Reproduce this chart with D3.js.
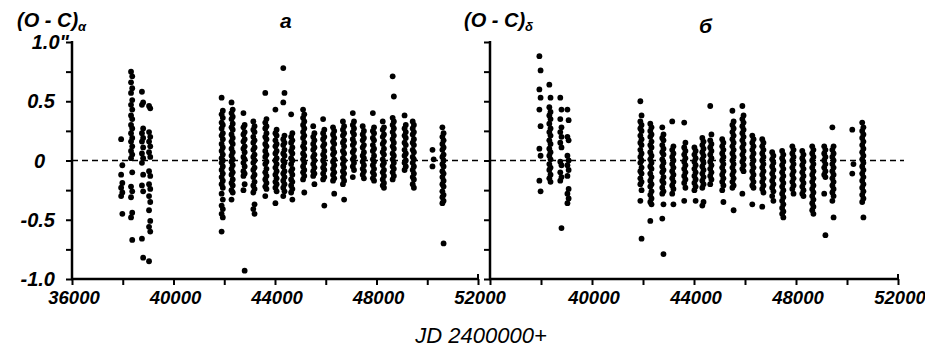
<!DOCTYPE html>
<html>
<head>
<meta charset="utf-8">
<script src="https://cdn.jsdelivr.net/npm/d3@7"></script>
<style>
  body { margin: 0; background: #fff; color: #000; }
  text { font-family: "Liberation Sans", Arial, sans-serif; fill: #000; }
</style>
</head>
<body>
<div id="root"></div>
<script>
// observing seasons (JD - 2400000), shared by both panels
const epochs = [37960, 38350, 38780, 39060, 41920, 42310, 42780, 43170, 43640, 44040, 44350, 44660, 45130,
  45530, 45920, 46310, 46700, 47090, 47480, 47880, 48270, 48660, 49130, 49450, 50230, 50620];

// (O-C) in right ascension, one list per season
const alphaValues = [
  [0.18, -0.04, -0.12, -0.19, -0.23, -0.27, -0.3, -0.45],
  [0.75, 0.71, 0.66, 0.61, 0.57, 0.51, 0.47, 0.43, 0.38, 0.35, 0.3, 0.27, 0.23, 0.19, 0.16, 0.12, 0.08, 0.05, 0.02, -0.1, -0.22, -0.26, -0.31, -0.44, -0.48, -0.67],
  [0.58, 0.49, 0.47, 0.27, 0.23, 0.19, 0.16, 0.11, 0.06, 0.02, -0.02, -0.12, -0.21, -0.26, -0.66, -0.82],
  [0.46, 0.44, 0.24, 0.2, 0.16, 0.12, 0.07, 0.03, -0.09, -0.13, -0.2, -0.24, -0.3, -0.35, -0.42, -0.51, -0.56, -0.6, -0.85],
  [0.53, 0.42, 0.39, 0.36, 0.32, 0.3, 0.27, 0.23, 0.21, 0.18, 0.14, 0.11, 0.08, 0.05, 0.02, 0, -0.02, -0.05, -0.08, -0.11, -0.14, -0.17, -0.2, -0.23, -0.28, -0.33, -0.38, -0.41, -0.45, -0.48, -0.6],
  [0.49, 0.43, 0.4, 0.37, 0.35, 0.31, 0.28, 0.26, 0.22, 0.19, 0.16, 0.14, 0.1, 0.07, 0.04, 0.01, -0.01, -0.04, -0.07, -0.1, -0.12, -0.16, -0.19, -0.21, -0.25, -0.27, -0.33],
  [0.4, 0.3, 0.28, 0.24, 0.22, 0.18, 0.16, 0.12, 0.1, 0.07, 0.03, 0.01, -0.02, -0.05, -0.09, -0.11, -0.13, -0.2, -0.25, -0.93],
  [0.33, 0.29, 0.26, 0.24, 0.2, 0.17, 0.15, 0.11, 0.09, 0.05, 0.03, 0, -0.02, -0.06, -0.08, -0.12, -0.14, -0.18, -0.21, -0.24, -0.27, -0.37, -0.41, -0.45],
  [0.57, 0.35, 0.32, 0.29, 0.27, 0.23, 0.2, 0.18, 0.14, 0.12, 0.08, 0.05, 0.03, -0.01, -0.03, -0.07, -0.1, -0.13, -0.16, -0.19, -0.22, -0.24, -0.3],
  [0.43, 0.26, 0.23, 0.21, 0.17, 0.14, 0.12, 0.08, 0.06, 0.02, 0, -0.03, -0.06, -0.09, -0.12, -0.15, -0.18, -0.2, -0.23, -0.26, -0.36],
  [0.78, 0.57, 0.49, 0.21, 0.18, 0.15, 0.13, 0.09, 0.06, 0.04, 0, -0.02, -0.05, -0.09, -0.11, -0.14, -0.17, -0.2, -0.23, -0.26, -0.3],
  [0.39, 0.23, 0.2, 0.17, 0.15, 0.11, 0.08, 0.06, 0.02, 0, -0.03, -0.07, -0.09, -0.12, -0.16, -0.18, -0.21, -0.24, -0.27, -0.33],
  [0.43, 0.39, 0.36, 0.33, 0.3, 0.27, 0.24, 0.21, 0.19, 0.15, 0.12, 0.1, 0.06, 0.04, 0.01, -0.02, -0.05, -0.08, -0.1, -0.13, -0.16, -0.27],
  [0.29, 0.23, 0.2, 0.17, 0.14, 0.11, 0.09, 0.05, 0.03, 0, -0.03, -0.06, -0.09, -0.11, -0.13, -0.2],
  [0.35, 0.26, 0.23, 0.2, 0.18, 0.14, 0.12, 0.08, 0.05, 0.03, 0, -0.03, -0.06, -0.08, -0.11, -0.14, -0.16, -0.38],
  [0.28, 0.25, 0.22, 0.19, 0.16, 0.14, 0.1, 0.07, 0.05, 0.01, -0.01, -0.04, -0.07, -0.1, -0.12, -0.15, -0.17, -0.28],
  [0.33, 0.29, 0.26, 0.23, 0.21, 0.17, 0.15, 0.12, 0.08, 0.06, 0.02, 0, -0.03, -0.06, -0.09, -0.11, -0.14, -0.17, -0.2, -0.33],
  [0.4, 0.33, 0.3, 0.27, 0.24, 0.22, 0.18, 0.15, 0.13, 0.09, 0.07, 0.03, 0.01, -0.02, -0.05, -0.08, -0.14],
  [0.29, 0.25, 0.22, 0.19, 0.17, 0.13, 0.11, 0.07, 0.04, 0.02, -0.01, -0.04, -0.07, -0.09, -0.12, -0.15],
  [0.4, 0.28, 0.25, 0.23, 0.19, 0.17, 0.13, 0.1, 0.08, 0.04, 0.01, -0.01, -0.04, -0.07, -0.1, -0.12, -0.15, -0.17],
  [0.33, 0.28, 0.26, 0.22, 0.2, 0.16, 0.14, 0.1, 0.07, 0.05, 0.01, -0.02, -0.04, -0.08, -0.1, -0.13, -0.16, -0.19, -0.21, -0.23],
  [0.71, 0.54, 0.36, 0.33, 0.3, 0.27, 0.24, 0.21, 0.18, 0.15, 0.12, 0.1, 0.06, 0.04, 0.01, -0.02, -0.05, -0.07, -0.1, -0.13, -0.16],
  [0.38, 0.3, 0.27, 0.24, 0.21, 0.19, 0.15, 0.13, 0.09, 0.06, 0.04, 0, -0.02, -0.05, -0.08],
  [0.33, 0.3, 0.27, 0.24, 0.22, 0.18, 0.15, 0.13, 0.09, 0.07, 0.03, 0.01, -0.02, -0.05, -0.08, -0.11, -0.14, -0.16, -0.2, -0.23],
  [0.09, 0.01, -0.05],
  [0.28, 0.23, 0.2, 0.17, 0.14, 0.11, 0.09, 0.05, 0.03, 0, -0.03, -0.05, -0.09, -0.11, -0.14, -0.17, -0.2, -0.22, -0.26, -0.29, -0.31, -0.34, -0.36, -0.7]
];

// (O-C) in declination, one list per season
const deltaValues = [
  [0.88, 0.76, 0.6, 0.53, 0.43, 0.29, 0.1, 0.04, -0.17, -0.26],
  [0.64, 0.53, 0.45, 0.41, 0.38, 0.35, 0.31, 0.27, 0.24, 0.21, 0.17, 0.14, 0.1, 0.07, 0.04, 0.01, -0.03, -0.06, -0.08, -0.12, -0.15, -0.18],
  [0.53, 0.43, 0.35, 0.28, 0.24, 0.2, 0.15, 0.11, -0.01, -0.04, -0.1, -0.14, -0.17, -0.57],
  [0.43, 0.34, 0.2, 0.17, 0.04, 0, -0.04, -0.08, -0.13, -0.24, -0.28, -0.32, -0.36],
  [0.5, 0.38, 0.33, 0.3, 0.27, 0.25, 0.21, 0.18, 0.15, 0.13, 0.09, 0.06, 0.03, 0, -0.02, -0.06, -0.09, -0.11, -0.15, -0.18, -0.2, -0.25, -0.34, -0.66],
  [0.31, 0.28, 0.25, 0.22, 0.2, 0.16, 0.13, 0.11, 0.07, 0.04, 0.01, -0.02, -0.05, -0.07, -0.11, -0.14, -0.17, -0.2, -0.22, -0.26, -0.29, -0.32, -0.35, -0.37, -0.51],
  [0.28, 0.22, 0.19, 0.17, 0.13, 0.1, 0.07, 0.05, 0.01, -0.02, -0.05, -0.08, -0.1, -0.14, -0.17, -0.19, -0.23, -0.26, -0.28, -0.37, -0.49, -0.79],
  [0.33, 0.12, 0.09, 0.06, 0.03, 0, -0.03, -0.06, -0.09, -0.12, -0.15, -0.18, -0.21, -0.24, -0.28, -0.37],
  [0.32, 0.15, 0.11, 0.08, 0.05, 0.02, -0.01, -0.04, -0.07, -0.1, -0.13, -0.16, -0.19, -0.23, -0.34],
  [0.11, 0.08, 0.05, 0.02, -0.01, -0.04, -0.07, -0.1, -0.13, -0.16, -0.19, -0.22, -0.25, -0.34],
  [0.19, 0.16, 0.13, 0.1, 0.07, 0.04, 0.01, -0.02, -0.05, -0.08, -0.11, -0.14, -0.17, -0.2, -0.23, -0.35, -0.38],
  [0.46, 0.22, 0.17, 0.14, 0.11, 0.08, 0.05, 0.02, -0.01, -0.04, -0.07, -0.1, -0.13, -0.16, -0.2],
  [0.18, 0.15, 0.12, 0.09, 0.06, 0.03, 0, -0.03, -0.06, -0.09, -0.12, -0.15, -0.18, -0.21, -0.25, -0.35],
  [0.42, 0.33, 0.3, 0.27, 0.24, 0.21, 0.18, 0.15, 0.12, 0.09, 0.06, 0.03, 0, -0.03, -0.06, -0.09, -0.12, -0.15, -0.18, -0.21, -0.23, -0.42],
  [0.46, 0.38, 0.35, 0.32, 0.29, 0.26, 0.23, 0.2, 0.17, 0.14, 0.11, 0.08, 0.05, 0.02, -0.01, -0.04, -0.07, -0.09, -0.28],
  [0.21, 0.18, 0.15, 0.12, 0.09, 0.06, 0.03, 0, -0.03, -0.06, -0.09, -0.12, -0.15, -0.18, -0.21, -0.23, -0.37],
  [0.18, 0.15, 0.12, 0.09, 0.06, 0.03, 0, -0.03, -0.06, -0.09, -0.12, -0.15, -0.18, -0.21, -0.24, -0.27, -0.39],
  [0.07, 0.04, 0.01, -0.02, -0.05, -0.08, -0.11, -0.14, -0.17, -0.2, -0.23, -0.26, -0.3, -0.34],
  [0.08, 0.05, 0.02, -0.01, -0.04, -0.07, -0.1, -0.13, -0.16, -0.19, -0.22, -0.25, -0.28, -0.31, -0.34, -0.37, -0.4, -0.43, -0.45, -0.48],
  [0.12, 0.09, 0.06, 0.03, 0, -0.03, -0.06, -0.09, -0.12, -0.15, -0.18, -0.21, -0.24, -0.28],
  [0.08, 0.05, 0.02, -0.01, -0.04, -0.07, -0.1, -0.13, -0.16, -0.19, -0.22, -0.25, -0.28, -0.3],
  [0.12, 0.09, 0.06, 0.03, 0, -0.03, -0.06, -0.09, -0.12, -0.15, -0.18, -0.21, -0.24, -0.27, -0.3, -0.33, -0.36, -0.39, -0.42, -0.45],
  [0.12, 0.09, 0.06, 0.03, 0, -0.03, -0.06, -0.09, -0.12, -0.14, -0.28, -0.63],
  [0.28, 0.12, 0.09, 0.06, 0.03, 0, -0.03, -0.06, -0.09, -0.12, -0.15, -0.18, -0.21, -0.24, -0.27, -0.3, -0.34, -0.48],
  [0.26, -0.03, -0.11],
  [0.32, 0.28, 0.25, 0.22, 0.19, 0.16, 0.13, 0.1, 0.07, 0.04, 0.01, -0.02, -0.05, -0.08, -0.11, -0.14, -0.17, -0.2, -0.23, -0.26, -0.29, -0.32, -0.35, -0.48]
];

const xTicks = [36000, 38000, 40000, 42000, 44000, 46000, 48000, 50000, 52000];
const xLabelsLeft = [36000, 40000, 44000, 48000, 52000];
const xLabelsRight = [40000, 44000, 48000, 52000];
const yTicks = [-1, -0.75, -0.5, -0.25, 0, 0.25, 0.5, 0.75, 1];
const yLabels = [-1, -0.5, 0, 0.5, 1];
const yLabelText = ['-1.0', '-0.5', '0', '0.5', '1.0"'];

const width = 925;
const height = 350;

const svg = d3.select('#root')
  .append('svg')
  .attr('width', width).attr('height', height);

const y = d3.scaleLinear().domain([-1, 1]).range([279, 42]);

const panels = [
  {left: 72, right: 478, dashEnd: 481, values: alphaValues, xLabels: xLabelsLeft, title: '(O - C)', sub: 'α', titleX: 17, letter: 'a', letterX: 280},
  {left: 490, right: 898, dashEnd: 904, values: deltaValues, xLabels: xLabelsRight, title: '(O - C)', sub: 'δ', titleX: 464, letter: 'б', letterX: 699}
];

panels.forEach(p => {
  const x = d3.scaleLinear().domain([36000, 52000]).range([p.left, p.right]);
  const g = svg.append('g');

  // zero line
  g.append('line')
    .attr('x1', p.left).attr('x2', p.dashEnd)
    .attr('y1', y(0)).attr('y2', y(0))
    .attr('stroke', '#000').attr('stroke-width', 1.5)
    .attr('stroke-dasharray', '6,4');

  // points
  const pts = [];
  epochs.forEach((jd, i) => p.values[i].forEach((v, j) => pts.push({jd, v, j})));
  g.selectAll('circle')
    .data(pts).enter()
    .append('circle')
    .attr('cx', d => x(d.jd) + ((d.j % 2) - 0.5) * 1.2)
    .attr('cy', d => y(d.v))
    .attr('r', 2.9)
    .attr('fill', '#000');

  // axes: d3 ticks, frame drawn as plain lines on top
  g.append('g')
    .attr('transform', `translate(${p.left},0)`)
    .call(d3.axisLeft(y).tickValues(yTicks).tickSize(6).tickSizeOuter(0).tickFormat(''))
    .call(a => a.selectAll('.tick line').attr('stroke', '#000').attr('stroke-width', 2));

  g.append('g')
    .attr('transform', `translate(0,${y(-1)})`)
    .call(d3.axisBottom(x).tickValues(xTicks).tickSize(6).tickSizeOuter(0).tickFormat(''))
    .call(a => a.selectAll('.tick line').attr('stroke', '#000').attr('stroke-width', 2));

  g.append('line')
    .attr('x1', p.left).attr('x2', p.left)
    .attr('y1', y(1) - 1).attr('y2', y(-1) + 1)
    .attr('stroke', '#000').attr('stroke-width', 2.5);
  g.append('line')
    .attr('x1', p.left - 1).attr('x2', p.right + 1)
    .attr('y1', y(-1)).attr('y2', y(-1))
    .attr('stroke', '#000').attr('stroke-width', 2.5);
  g.append('line')
    .attr('x1', p.right).attr('x2', p.right)
    .attr('y1', y(-1) - 5).attr('y2', y(-1))
    .attr('stroke', '#000').attr('stroke-width', 2);

  g.selectAll('.xlab')
    .data(p.xLabels).enter()
    .append('text')
    .attr('class', 'xlab')
    .attr('x', d => x(d) + 2)
    .attr('y', 304)
    .attr('text-anchor', 'middle')
    .attr('font-size', 18.5)
    .attr('font-style', 'italic')
    .attr('font-weight', 'bold')
    .text(d => d);

  // title
  const t = g.append('text')
    .attr('x', p.titleX).attr('y', 27)
    .attr('font-size', 20)
    .attr('font-style', 'italic')
    .attr('font-weight', 'bold');
  t.append('tspan').text(p.title);
  t.append('tspan').attr('dy', 4).attr('font-size', 13).text(p.sub);

  g.append('text')
    .attr('x', p.letterX).attr('y', p.letter === 'a' ? 28 : 33)
    .attr('font-size', 21)
    .attr('font-style', 'italic')
    .attr('font-weight', 'bold')
    .text(p.letter);
});

// y tick labels (left panel only)
svg.selectAll('.ylab')
  .data(yLabels).enter()
  .append('text')
  .attr('class', 'ylab')
  .attr('x', d => d === 0 ? 45 : (d === 1 ? 69 : 55))
  .attr('y', d => y(d) + 7)
  .attr('text-anchor', 'end')
  .attr('font-size', 20)
  .attr('font-style', 'italic')
  .attr('font-weight', 'bold')
  .text((d, i) => yLabelText[i]);

svg.append('text')
  .attr('x', 481).attr('y', 343)
  .attr('text-anchor', 'middle')
  .attr('font-size', 22)
  .attr('font-style', 'italic')
  .text('JD 2400000+');
</script>
</body>
</html>
